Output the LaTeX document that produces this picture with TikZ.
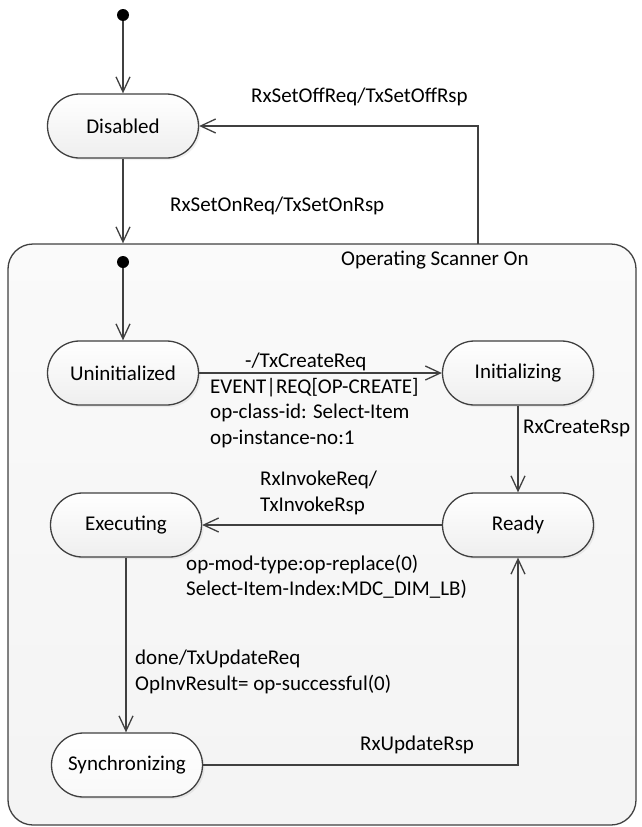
\documentclass[tikz,border=0pt]{standalone}
\usepackage{fontspec}
\setmainfont{Carlito}
\usetikzlibrary{arrows.meta,shadows}
\definecolor{ln}{RGB}{64,64,64}
\tikzstyle{st} = [draw=ln, line width=1.3pt, rectangle, rounded corners=32pt, minimum width=151pt, minimum height=64pt, top color=white, bottom color=gray!13, inner sep=0pt, drop shadow={opacity=0.12, shadow xshift=2pt, shadow yshift=-2pt}]
\tikzstyle{ini} = [circle, fill=black, minimum size=12pt, inner sep=0pt]
\tikzstyle{lbl} = [anchor=west, align=left, inner sep=0pt]
\tikzstyle{tr} = [draw=ln, line width=1.3pt, -{Straight Barb[length=15pt,width=14pt]}]

\begin{document}
\begin{tikzpicture}[x=1pt, y=-1pt, font=\fontsize{21}{25.5}\selectfont]
	\useasboundingbox (0,0) rectangle (641,827);
	
	% composite state
	\node [draw=ln, line width=1.3pt, rounded corners=25pt, minimum width=628pt, minimum height=581pt, top color=gray!4, bottom color=gray!9] (on) at (322,534.5) {};
	\node [lbl] (lop) at (341,260) {Operating Scanner On};
	
	\node [ini] (start) at (123,15) {};
	\node [st] (dis) at (123,126) {Disabled};
	\node [ini] (start2) at (123,262) {};
	\node [st] (uninit) at (123,373) {Uninitialized};
	\node [st] (init) at (518,373) {Initializing};
	\node [st] (exe) at (126,525) {Executing};
	\node [st] (ready) at (518,525) {Ready};
	\node [st, bottom color=gray!5] (sync) at (127,765) {Synchronizing};
	\coordinate (off) at (478,244);
	
	% transitions
	\draw [tr] (start) -- (dis);
	\draw [tr] (dis) -- (dis |- on.north);
	\draw [tr] (off) |- (dis.east);
	\draw [tr] (start2) -- (uninit);
	\draw [tr] (uninit) -- (init);
	\draw [tr] (init) -- (ready);
	\draw [tr] (ready) -- (exe);
	\draw [tr] (exe) -- (exe |- sync.north);
	\draw [tr] (sync) -| (ready);
	
	% labels
	\node [lbl] (loff) at (251,97) {RxSetOffReq/TxSetOffRsp};
	\node [lbl] (lon) at (170,206) {RxSetOnReq/TxSetOnRsp};
	\node [lbl] (lcreate) at (245,362) {-/TxCreateReq};
	\node [lbl] (lreq) at (210,413) {EVENT|REQ[OP-CREATE]\\op-class-id: Select-Item\\op-instance-no:1};
	\node [lbl] (lcrsp) at (523,428) {RxCreateRsp};
	\node [lbl] (linv) at (260,493) {RxInvokeReq/\\TxInvokeRsp};
	\node [lbl] (lmod) at (186,577) {op-mod-type:op-replace(0)\\Select-Item-Index:MDC\_DIM\_LB)};
	\node [lbl] (ldone) at (135,672) {done/TxUpdateReq\\OpInvResult= op-successful(0)};
	\node [lbl] (lursp) at (360,745) {RxUpdateRsp};
\end{tikzpicture}
\end{document}
